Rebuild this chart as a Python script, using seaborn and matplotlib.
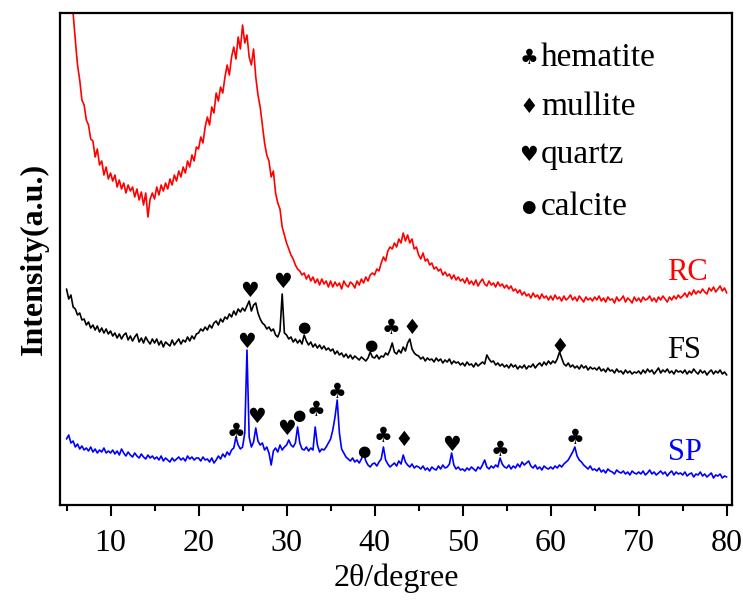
import numpy as np
import pandas as pd
import matplotlib
matplotlib.use("Agg")
import matplotlib.pyplot as plt
import seaborn as sns

# ---------------- data ----------------
two_theta = np.arange(5.0, 80.001, 0.25)

rc = [600, 568, 532, 492, 465, 440, 425, 405, 400, 385, 380, 366, 364, 348, 356, 340, 344, 330, 338, 326,
      332, 324, 330, 318, 325, 316, 322, 312, 320, 314, 318, 308, 316, 305, 313, 300, 312, 288, 306, 312,
      306, 318, 310, 320, 314, 322, 316, 326, 320, 330, 324, 334, 328, 338, 332, 344, 338, 350, 344, 358,
      356, 368, 362, 378, 388, 380, 398, 392, 412, 404, 418, 412, 428, 440, 430, 448, 458, 446, 468, 456,
      480, 462, 470, 448, 440, 456, 428, 410, 398, 380, 362, 350, 344, 328, 334, 312, 302, 296, 278, 270,
      262, 256, 250, 246, 240, 236, 234, 230, 232, 226, 230, 224, 228, 222, 226, 220, 226, 221, 224, 218,
      224, 218, 223, 219, 222, 216, 224, 220, 218, 223, 221, 217, 224, 220, 226, 222, 228, 224, 230, 232,
      230, 236, 234, 242, 248, 244, 254, 258, 256, 262, 258, 266, 262, 272, 264, 270, 262, 266, 256, 258,
      250, 246, 252, 244, 246, 240, 242, 236, 238, 234, 236, 230, 233, 229, 231, 226, 230, 225, 228, 224,
      226, 222, 227, 221, 224, 220, 225, 219, 223, 226, 221, 219, 224, 220, 222, 218, 223, 219, 221, 217,
      220, 216, 219, 214, 216, 212, 215, 210, 213, 209, 211, 207, 212, 208, 210, 206, 211, 207, 209, 205,
      209, 205, 210, 206, 208, 204, 209, 205, 207, 210, 205, 208, 204, 209, 206, 203, 208, 205, 207, 204,
      208, 205, 209, 204, 207, 203, 208, 205, 206, 202, 208, 204, 206, 209, 203, 207, 205, 202, 208, 204,
      207, 203, 208, 205, 206, 209, 204, 207, 203, 208, 205, 209, 206, 203, 208, 205, 209, 206, 210, 207,
      209, 212, 208, 213, 210, 215, 211, 214, 212, 216, 213, 211, 217, 214, 218, 213, 216, 219, 214, 217,
      212]

fs = [216, 206, 210, 198, 196, 190, 192, 185, 186, 180, 183, 177, 180, 175, 179, 173, 177, 172, 176, 171,
      174, 169, 172, 167, 171, 166, 170, 172, 165, 169, 164, 168, 171, 163, 167, 162, 168, 164, 161, 166,
      162, 166, 160, 164, 158, 163, 161, 159, 165, 160, 163, 166, 161, 165, 163, 168, 164, 169, 166, 171,
      172, 176, 174, 178, 175, 180, 177, 182, 184, 180, 186, 183, 188, 186, 191, 188, 194, 190, 196, 193,
      197, 194, 199, 204, 194, 200, 202, 192, 186, 182, 180, 176, 178, 174, 176, 170, 168, 174, 211, 172,
      170, 166, 168, 163, 166, 162, 165, 161, 170, 164, 160, 163, 158, 161, 157, 160, 156, 159, 155, 157,
      154, 156, 151, 154, 150, 152, 148, 151, 147, 150, 146, 149, 147, 145, 148, 146, 144, 147, 153, 148,
      147, 150, 146, 149, 148, 152, 150, 155, 162, 153, 151, 155, 152, 158, 154, 162, 166, 156, 152, 150,
      149, 146, 148, 144, 147, 145, 146, 143, 147, 144, 146, 142, 145, 143, 146, 141, 144, 142, 143, 140,
      142, 139, 143, 140, 141, 138, 142, 139, 141, 143, 141, 150, 146, 143, 144, 140, 142, 139, 141, 138,
      140, 137, 141, 138, 140, 136, 139, 137, 140, 136, 139, 138, 141, 137, 140, 142, 139, 143, 140, 144,
      141, 144, 142, 146, 153, 147, 141, 139, 142, 138, 140, 137, 139, 136, 140, 137, 139, 135, 138, 136,
      137, 135, 138, 134, 136, 133, 137, 134, 135, 132, 136, 133, 134, 131, 135, 132, 134, 131, 133, 132,
      134, 131, 135, 132, 136, 133, 135, 131, 134, 137, 132, 135, 133, 136, 132, 134, 131, 135, 133, 134,
      132, 135, 131, 134, 132, 136, 133, 131, 135, 132, 134, 130, 133, 135, 131, 134, 132, 135, 131, 133,
      130]

sp = [66, 70, 62, 64, 58, 61, 56, 59, 55, 57, 54, 58, 53, 56, 52, 55, 53, 57, 52, 54,
      52, 55, 51, 54, 50, 56, 52, 49, 53, 50, 48, 52, 49, 47, 51, 48, 46, 50, 47, 49,
      46, 48, 45, 49, 44, 47, 45, 43, 47, 44, 46, 48, 45, 47, 44, 49, 46, 48, 45, 47,
      47, 44, 48, 45, 46, 43, 47, 42, 45, 49, 46, 51, 48, 53, 50, 55, 57, 68, 60, 56,
      58, 72, 155, 68, 58, 63, 77, 64, 60, 62, 55, 58, 52, 40, 54, 57, 53, 60, 55, 58,
      60, 65, 60, 58, 62, 78, 62, 56, 55, 58, 54, 57, 55, 78, 60, 53, 56, 55, 58, 62,
      66, 75, 88, 105, 72, 56, 52, 48, 46, 44, 47, 43, 45, 42, 46, 52, 44, 40, 38, 41,
      42, 39, 43, 46, 58, 45, 41, 38, 40, 42, 39, 44, 41, 50, 43, 40, 38, 41, 37, 39,
      38, 36, 39, 35, 37, 34, 38, 36, 35, 39, 36, 40, 37, 38, 41, 52, 40, 36, 38, 35,
      36, 34, 37, 35, 38, 36, 34, 38, 36, 40, 45, 38, 36, 39, 37, 40, 38, 47, 41, 38,
      37, 40, 36, 39, 37, 41, 38, 43, 40, 42, 44, 39, 37, 40, 36, 38, 35, 39, 37, 36,
      38, 36, 39, 37, 40, 38, 41, 43, 45, 49, 53, 58, 49, 45, 43, 40, 38, 36, 39, 35,
      36, 34, 37, 33, 35, 32, 36, 34, 33, 31, 35, 33, 32, 34, 31, 33, 30, 34, 32, 31,
      33, 31, 34, 30, 32, 35, 31, 33, 30, 32, 34, 31, 33, 29, 32, 34, 30, 33, 31, 32,
      30, 33, 29, 31, 32, 28, 31, 30, 33, 29, 31, 28, 30, 32, 27, 30, 29, 31, 27, 29,
      28]

samples = ["RC", "FS", "SP"]
sample_colors = {"RC": "#ff0000", "FS": "#000000", "SP": "#0000ff"}

# phase legend
phases = ["hematite", "mullite", "quartz", "calcite"]
phase_symbols = {"hematite": "\u2663", "mullite": "\u2666", "quartz": "\u2665", "calcite": "\u25cf"}

# peak identification marks: (phase, 2theta, mark height)
fs_peaks_phase = ["quartz", "quartz", "calcite", "calcite", "hematite", "mullite", "mullite"]
fs_peaks_2t = [25.75, 29.5, 32.0, 39.6, 41.9, 44.2, 61.1]
fs_peaks_h = [214, 223, 177, 159, 177, 177, 158]

sp_peaks_phase = ["hematite", "quartz", "quartz", "quartz", "calcite", "hematite", "hematite",
                  "calcite", "hematite", "mullite", "quartz", "hematite", "hematite"]
sp_peaks_2t = [24.3, 25.5, 26.6, 30.0, 31.4, 33.35, 35.7, 38.8, 41.0, 43.3, 48.7, 54.2, 62.8]
sp_peaks_h = [73, 163, 88, 76, 90, 95, 113, 53, 69, 65, 60, 55, 67]

# ---------------- plot ----------------
sns.set_style("white")
plt.rcParams["font.family"] = ["Liberation Serif", "DejaVu Sans"]
plt.rcParams["text.color"] = "black"
plt.rcParams["axes.labelcolor"] = "black"
plt.rcParams["xtick.color"] = "black"

n = len(two_theta)
df = pd.DataFrame({
    "two_theta": np.tile(two_theta, 3),
    "intensity": np.array(rc + fs + sp, dtype=float),
    "sample": np.repeat(samples, n),
})

fig = plt.figure(figsize=(7.43, 6.02), dpi=100)
ax = fig.add_axes([60 / 743, (602 - 505) / 602, (732 - 60) / 743, (505 - 13) / 602])

sns.lineplot(data=df, x="two_theta", y="intensity", hue="sample", palette=sample_colors,
             estimator=None, sort=False, linewidth=1.2, legend=False, ax=ax)

ax.set_xlim(4.26, 80.6)
ax.set_ylim(0, 492)

sym_font = ["DejaVu Sans"]
for ph, x, h in zip(fs_peaks_phase + sp_peaks_phase, fs_peaks_2t + sp_peaks_2t, fs_peaks_h + sp_peaks_h):
    s = 11 if ph == "calcite" else 15
    ax.text(x, h, phase_symbols[ph], ha="center", va="center", fontsize=s, family=sym_font, color="black")

# phase legend
leg_y = [447, 398, 350, 298]
for ph, y in zip(phases, leg_y):
    s = 12 if ph == "calcite" else 15
    ax.text(57.5, y, phase_symbols[ph], ha="center", va="center", fontsize=s, family=sym_font, color="black")
    ax.text(58.9, y, ph, ha="left", va="center", fontsize=24, color="black")

# sample labels
ax.text(75.5, 233, "RC", ha="center", va="center", fontsize=22, color=sample_colors["RC"])
ax.text(75.1, 155, "FS", ha="center", va="center", fontsize=22, color=sample_colors["FS"])
ax.text(75.3, 53, "SP", ha="center", va="center", fontsize=22, color=sample_colors["SP"])

ax.set_xticks(np.arange(10, 81, 10))
ax.set_xticks(np.arange(5, 80, 10), minor=True)
ax.set_yticks([])
ax.tick_params(axis="x", which="major", direction="out", length=8, width=1.5, labelsize=23, pad=9,
               bottom=True, colors="black")
ax.tick_params(axis="x", which="minor", direction="out", length=4, width=1.5, bottom=True, colors="black")
for sp_ in ax.spines.values():
    sp_.set_visible(True)
    sp_.set_linewidth(1.6)
    sp_.set_color("black")

ax.set_xlabel("2θ/degree", fontsize=23, labelpad=4)
ax.set_ylabel("Intensity(a.u.)", fontsize=23, fontweight="bold", labelpad=8)

fig.savefig("out.png", dpi=100)
